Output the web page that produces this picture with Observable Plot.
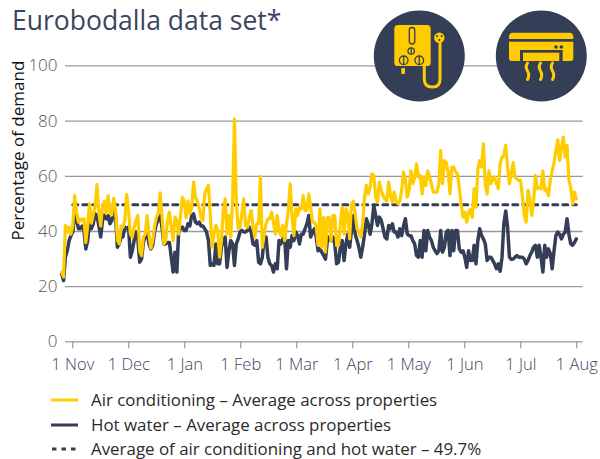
<!DOCTYPE html>
<html>
<head>
<meta charset="utf-8">
<script src="https://cdn.jsdelivr.net/npm/d3@7"></script>
<script src="https://cdn.jsdelivr.net/npm/@observablehq/plot@0.6"></script>
<style>
html,body{margin:0;padding:0;background:#fff;width:600px;height:459px;overflow:hidden}
body{position:relative;font-family:"Open Sans",sans-serif;font-weight:300}
#title{height:50px;box-sizing:border-box;padding:3px 0 0 12px;font-size:26.5px;line-height:34px;color:#3b4560;white-space:nowrap;font-weight:400}
#chart svg{display:block}
#icons{position:absolute;left:0;top:0}
#legend{position:absolute;left:0;top:388px;width:600px;font-size:16.9px;color:#2a2a2a;font-weight:400}
.row{position:absolute;left:0;height:24px;width:600px}
.row svg{position:absolute;left:50px;top:0}
.row span{position:absolute;left:91px;top:0;line-height:24px;white-space:nowrap}
</style>
</head>
<body>
<div id="title">Eurobodalla data set*</div>
<div id="chart"></div>
<svg id="icons" width="600" height="110" viewBox="0 0 600 110">
  <circle cx="419.3" cy="56" r="45.5" fill="#343f57"/>
  <circle cx="541.3" cy="56" r="45.5" fill="#343f57"/>
  <g fill="#ffcc00">
    <path d="M398 25H427Q430.700 25 430.700 29V63Q430.700 66 427.700 66H397.300Q394.300 66 394.300 63V29Q394.300 25 398 25Z"/>
    <rect x="401.300" y="68" width="3.700" height="6" rx="1"/>
    <circle cx="439.300" cy="37.700" r="5.200"/>
    <path d="M513 32.700H569.300Q573.300 32.700 573.300 37V39H509V37Q509 32.700 513 32.700Z"/>
    <path d="M509 41.700H573.300V58Q573.300 61 570.300 61H512Q509 61 509 58Z"/>
  </g>
  <path d="M424.300 66V79Q424.300 87 432 87H433Q440 87 440 79V43" fill="none" stroke="#ffcc00" stroke-width="3" stroke-linecap="round"/>
  <g fill="none" stroke="#343f57" stroke-width="1.300">
    <rect x="409.300" y="27.500" width="5.500" height="16.500" rx="2.700"/>
    <circle cx="411.200" cy="51" r="3.200"/><path d="M411.200 47.800V54.200"/>
    <circle cx="403.700" cy="60.300" r="4.300"/><path d="M403.700 56V64.600"/>
    <circle cx="419.300" cy="60.300" r="4.300"/><path d="M419.300 56V64.600"/>
  </g>
  <g fill="#343f57">
    <circle cx="437" cy="36" r="1"/><circle cx="441.600" cy="36" r="1"/><circle cx="439.300" cy="40" r="1"/>
    <circle cx="556" cy="47" r="1.800"/><circle cx="561.300" cy="47" r="1.800"/>
    <rect x="520" y="50" width="42.700" height="11"/>
  </g>
  <rect x="523" y="52.700" width="36.300" height="8.300" fill="#ffcc00"/>
  <g fill="none" stroke="#ffcc00" stroke-width="3" stroke-linecap="round">
    <path d="M527.500 63Q525 67 527.500 71T527.500 79.500"/>
    <path d="M540.500 63Q538 67 540.500 71T540.500 79.500"/>
    <path d="M552.500 63Q550 67 552.500 71T552.500 79.500"/>
  </g>
</svg>
<div id="legend">
  <div class="row" style="top:0"><svg width="30" height="24"><line x1="1" x2="28" y1="12" y2="12" stroke="#ffcc00" stroke-width="3"/></svg><span>Air conditioning – Average across properties</span></div>
  <div class="row" style="top:24.500px"><svg width="30" height="24"><line x1="1" x2="28" y1="12" y2="12" stroke="#343f57" stroke-width="3"/></svg><span>Hot water – Average across properties</span></div>
  <div class="row" style="top:49px"><svg width="30" height="24"><line x1="2" x2="28" y1="12" y2="12" stroke="#343f57" stroke-width="3" stroke-dasharray="4.500 5"/></svg><span>Average of air conditioning and hot water – 49.7%</span></div>
</div>
<script>
const firstDay = -6;
const airConditioning = [25.3,23.5,42.2,39.8,41.6,39,42.2,53,47,43.4,44.6,44,44.6,36,42,50,43,46,49,57,47,42,49,51,46.5,53,47,46,52,48,37,35.5,42,41.5,44,53.5,47.5,39,38,41.5,44,45.8,33,31.3,38,39,45.8,39,34,36.7,41.5,45.2,46.4,54,46,35.5,36.7,44,47,41.5,36.7,45.2,44,39,46,52.4,51,45,51,46.4,48.8,57.9,52.4,51,48.8,45,44,53.6,55.5,56.7,46.4,34.3,39.2,42.2,40.4,30.7,36.7,47.6,51.8,39,45.8,38,51,80.8,51,41,41.6,46.4,51.8,42,41.6,45,47.6,41.6,38,42.8,42.8,60,34.3,39,42.8,44.6,44.6,47,43.4,39,45.8,40.4,38.5,42.2,36.7,42.8,47.6,57.3,45.2,38.5,48.2,45.8,48.8,48.2,53,47.6,47.6,53.6,48.8,43.4,43.4,42,35,48.2,34.3,45,32.5,45,45,36.7,45.8,45.8,35,35,42.8,48.8,39,48.2,46.4,37.3,50,51,46.4,41,39.7,38,42.8,52.4,56.7,53.6,56,60.9,60.3,52.4,50.6,57.9,54.9,53,51.8,51,57.9,53,50.6,54.3,51,50,51,54.9,61.5,59,52.4,54.9,62,57.3,59.7,64.5,59.7,60.3,53.6,59.7,56.7,62,59.7,57.3,54.3,54.3,54.3,57.3,69.3,57.3,65.7,65,61.5,53.6,63.3,63.3,61.5,60.9,56,50,45.2,47,43.4,47,48,45,55.5,48.8,62.7,65.7,63.3,71.8,57.3,53.6,62,57.3,59,59.7,57.3,55.5,64.5,66.9,67.5,71.2,63.3,57.3,60.9,65,59.7,59,58.5,58.5,52.4,45.8,43.4,54.9,51.8,45.8,51,60.3,55.5,56,55.5,62,54.9,55.5,53,58.5,62,65,69.3,73.2,65.7,70.5,74.2,67,71.2,58.5,56,50,54.3,51.8];
const hotWater = [24.7,22.2,30.7,33,36.7,38.5,39.8,46,45,41,41,42,40.4,33.7,36.7,43.4,41,42.8,46.4,45.8,42.2,38,44,46,44.6,45.8,42.8,44,47.6,45.8,34.3,35.5,38,38,41.6,41,41.6,30.7,33,36.7,39.8,37.3,28.9,30,36,38,41,35.5,33.7,35,39.8,42.8,44.6,45.8,41.6,35.5,35.5,36,36,30.7,25.3,32.5,25.3,40.4,41,41.6,40.4,40.4,42.8,42,45.8,46.4,43.4,42.8,43.4,42,42,41,39.8,36.7,27.7,28.3,27.7,35.5,28.3,28.3,34.3,36.7,38,27,33,36.7,35.5,27.7,35.5,37.3,39.8,40.4,39.8,39.8,40.4,41.6,39.8,35.5,35,36.7,28.9,28.3,30.7,38,38,30.7,28.3,27.7,25.3,28.3,26.5,36.7,35.5,37.3,38,26.5,36.7,34.3,38.5,36.7,39.8,38.5,35.5,39,39,41,42.8,45.8,38,39.8,41,38,33,33.7,32.5,31.3,30,36.7,38,36.7,38,35.5,28.3,28.9,34.3,36.7,29.5,35.5,39,34.3,40.4,45.8,39,36.7,34.3,30.7,34.3,39,44.6,42.8,39,42.8,49.4,45.8,42.2,45.2,44,41,38,37.3,42.2,41,42.8,39.8,39.8,38,41,38.5,42,44.6,39.1,38.5,38.5,36.7,35.5,31.3,30.7,36.7,30.7,40.4,33,40.4,38,36.7,34.3,33,32,33,40.4,32.5,34.3,39.8,40.4,31.3,40.4,33,40.4,40.4,33.7,32.5,33,30.7,27,33,29.5,29.5,35,28.3,36.7,41,38.5,37.3,35.5,29.5,30.7,30.7,29.5,28.3,26.5,28.3,25.6,30.7,42.8,47.4,41.6,30.7,29.9,30,30.7,31.3,30.7,30.7,30.7,30,28.3,29.5,31.3,32.5,34.3,35,30.7,35,30.7,25.3,35,30.7,33.7,32,26.5,33,38.5,39.8,39,37.3,39,39.8,44.6,39,35.5,35,36,37.3];
const averageValue = 49.7;
const averageDays = [0, 271];
const tickDays = [0,30.14,60.28,90.42,120.56,150.7,180.84,210.98,241.12,271.26];
const tickLabels = ["1 Nov","1 Dec","1 Jan","1 Feb","1 Mar","1 Apr","1 May","1 Jun","1 Jul","1 Aug"];
const yTicks = [0,20,40,60,80,100];
const yLabel = "Percentage of demand";

const toRows = a => a.map((v,i)=>({day:firstDay+i,v}));
const NAVY="#343f57", YEL="#ffcc00", FONT="'Open Sans',sans-serif";
const plot = Plot.plot({
  width:600, height:335,
  marginLeft:65, marginRight:17.3, marginTop:15.4, marginBottom:43.6,
  style:{fontFamily:FONT, fontWeight:300, background:"transparent", overflow:"visible"},
  x:{domain:[-3.93,274.7]},
  y:{domain:[0,100]},
  marks:[
    Plot.ruleY(yTicks,{stroke:"#999",strokeWidth:1.3}),
    Plot.axisX({ticks:tickDays,tickFormat:(d,i)=>tickLabels[i],tickSize:7,tickPadding:9,stroke:"#888",fill:"#3b4560",fontSize:16.5,label:null}),
    Plot.axisY({ticks:yTicks,tickSize:0,tickPadding:8,fill:"#555",fontSize:17,label:null}),
    Plot.text([yLabel],{frameAnchor:"left",y:()=>69.3,dx:-47,rotate:-90,textAnchor:"middle",fontSize:17,fill:"#111",fontWeight:400}),
    Plot.line(toRows(hotWater),{x:"day",y:"v",stroke:NAVY,strokeWidth:3.5,curve:"linear"}),
    Plot.line(averageDays.map(day=>({day,v:averageValue})),{x:"day",y:"v",stroke:NAVY,strokeWidth:3,strokeDasharray:"5 5"}),
    Plot.line(toRows(airConditioning),{x:"day",y:"v",stroke:YEL,strokeWidth:3.2,curve:"linear"})
  ]
});
document.getElementById("chart").appendChild(plot);
</script>
</body>
</html>
